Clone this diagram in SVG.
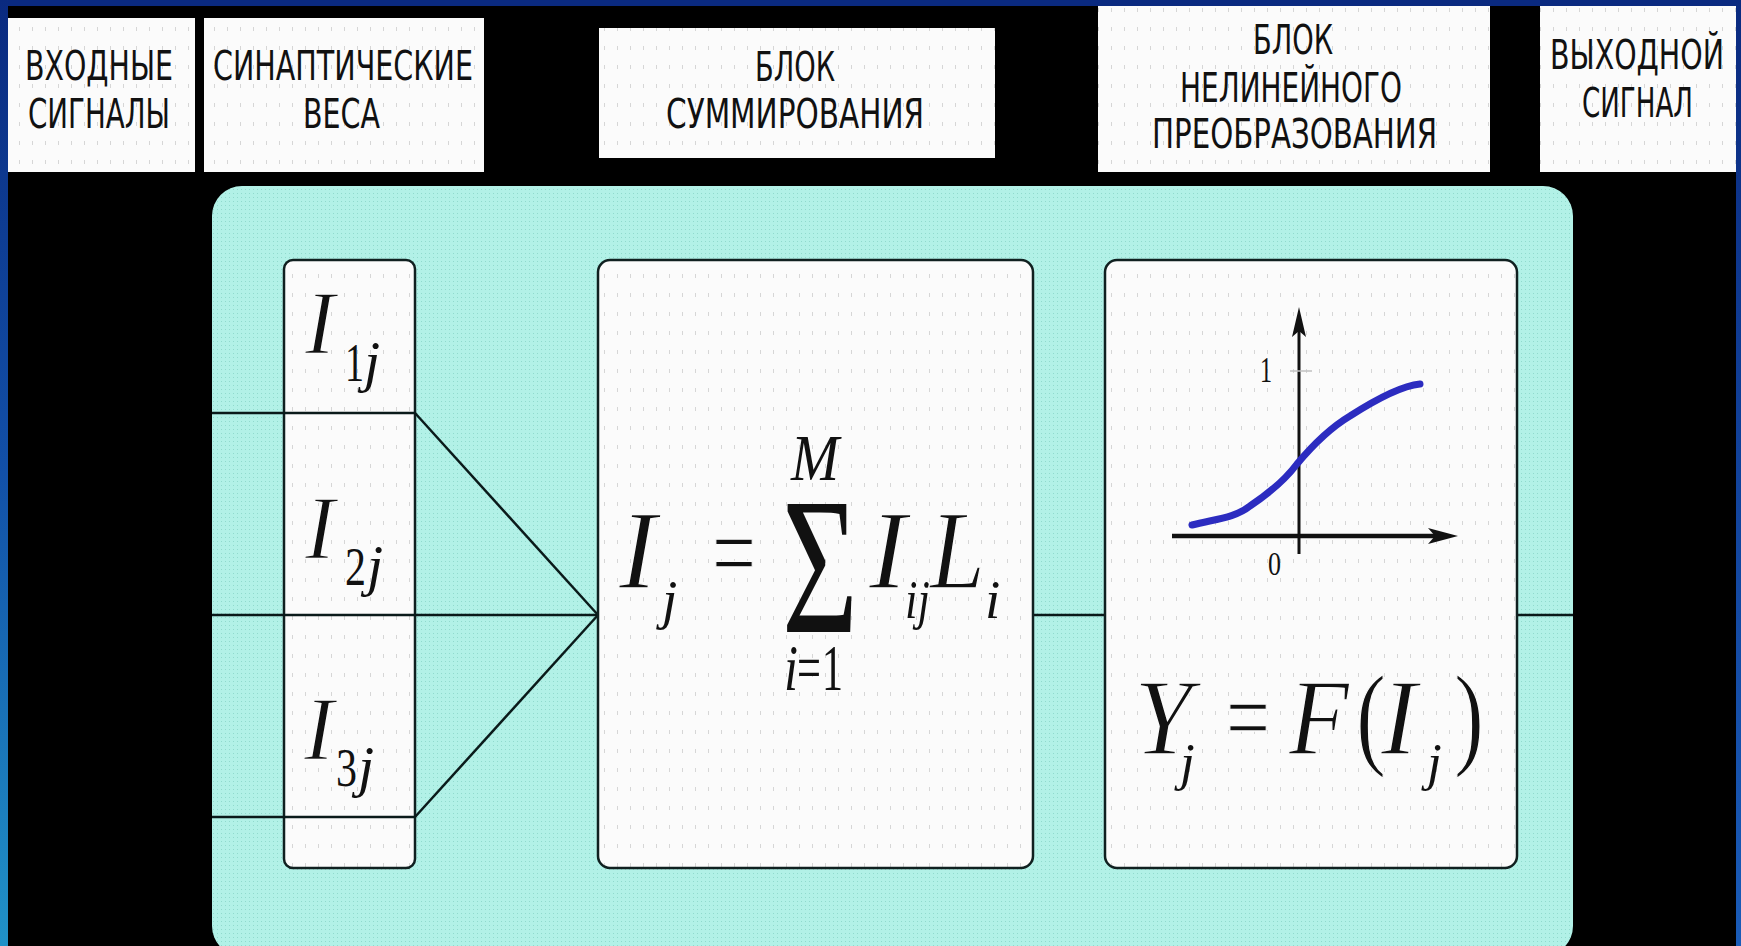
<svg xmlns="http://www.w3.org/2000/svg" width="1741" height="946" viewBox="0 0 1741 946">
<defs>
<linearGradient id="gl" x1="0" y1="0" x2="0" y2="1"><stop offset="0" stop-color="#0a2a80"/><stop offset="0.5" stop-color="#1250a8"/><stop offset="1" stop-color="#2092c8"/></linearGradient>
<linearGradient id="gr" x1="0" y1="0" x2="0" y2="1"><stop offset="0" stop-color="#0a2a80"/><stop offset="1" stop-color="#1a5cb8"/></linearGradient>
<pattern id="dots" width="13" height="19" patternUnits="userSpaceOnUse"><rect width="13" height="19" fill="#fbfbfb"/><rect x="6" y="8" width="1" height="4" fill="#d6d6d6"/></pattern>
<pattern id="cy" width="4" height="4" patternUnits="userSpaceOnUse"><rect width="4" height="4" fill="#b2f1e7"/><rect x="1" y="1" width="1" height="1" fill="#90dacd"/></pattern>
<style>
.hb{fill:url(#dots);stroke:none}
.ht{font-family:"DejaVu Sans Condensed","DejaVu Sans",sans-serif;font-size:40px;fill:#111}
.box{fill:url(#dots);stroke:#102020;stroke-width:2.5}
.ln{stroke:#0a1a1a;stroke-width:2.5;fill:none}
.mi{font-family:"Liberation Serif","Times New Roman",serif;font-style:italic;fill:#111}
.mu{font-family:"Liberation Serif","Times New Roman",serif;fill:#111}
.thin{stroke:#fbfbfb;stroke-width:1.4}
</style>
</defs>
<rect width="1741" height="946" fill="#000"/>
<rect x="0" y="0" width="1741" height="6" fill="#0a2a80"/>
<rect x="0" y="0" width="8" height="946" fill="url(#gl)"/>
<rect x="1736" y="0" width="5" height="946" fill="url(#gr)"/>

<g id="h-input"><rect class="hb" x="8" y="18" width="187" height="154"/>
<text class="ht" x="25" y="80" textLength="148" lengthAdjust="spacingAndGlyphs">ВХОДНЫЕ</text>
<text class="ht" x="28" y="128" textLength="142" lengthAdjust="spacingAndGlyphs">СИГНАЛЫ</text></g>
<g id="h-weights"><rect class="hb" x="204" y="18" width="280" height="154"/>
<text class="ht" x="213" y="80" textLength="260" lengthAdjust="spacingAndGlyphs">СИНАПТИЧЕСКИЕ</text>
<text class="ht" x="303" y="128" textLength="77" lengthAdjust="spacingAndGlyphs">ВЕСА</text></g>
<g id="h-sum"><rect class="hb" x="599" y="28" width="396" height="130"/>
<text class="ht" x="755" y="81" textLength="80" lengthAdjust="spacingAndGlyphs">БЛОК</text>
<text class="ht" x="666" y="128" textLength="258" lengthAdjust="spacingAndGlyphs">СУММИРОВАНИЯ</text></g>
<g id="h-nonlin"><rect class="hb" x="1098" y="6" width="392" height="166"/>
<text class="ht" x="1253" y="54" textLength="80" lengthAdjust="spacingAndGlyphs">БЛОК</text>
<text class="ht" x="1180" y="102" textLength="222" lengthAdjust="spacingAndGlyphs">НЕЛИНЕЙНОГО</text>
<text class="ht" x="1152" y="148" textLength="285" lengthAdjust="spacingAndGlyphs">ПРЕОБРАЗОВАНИЯ</text></g>
<g id="h-output"><rect class="hb" x="1540" y="6" width="196" height="166"/>
<text class="ht" x="1550" y="69" textLength="174" lengthAdjust="spacingAndGlyphs">ВЫХОДНОЙ</text>
<text class="ht" x="1582" y="117" textLength="111" lengthAdjust="spacingAndGlyphs">СИГНАЛ</text></g>

<g id="panel"><rect x="212" y="186" width="1361" height="770" rx="30" ry="30" fill="url(#cy)"/></g>

<g id="weights">
<rect class="box" x="284" y="260" width="131" height="608" rx="9"/>
<text class="mi thin" x="305" y="354" font-size="90">I</text>
<text class="mu" x="345" y="381" font-size="54" textLength="19" lengthAdjust="spacingAndGlyphs">1</text>
<text class="mi" x="364" y="381" font-size="58">j</text>
<text class="mi thin" x="305" y="559" font-size="90">I</text>
<text class="mu" x="345" y="585" font-size="54" textLength="21" lengthAdjust="spacingAndGlyphs">2</text>
<text class="mi" x="367" y="585" font-size="58">j</text>
<text class="mi thin" x="304" y="760" font-size="90">I</text>
<text class="mu" x="336" y="786" font-size="54" textLength="21" lengthAdjust="spacingAndGlyphs">3</text>
<text class="mi" x="358" y="786" font-size="58">j</text>
</g>

<g id="connectors">
<line class="ln" x1="212" y1="413" x2="415" y2="413"/>
<line class="ln" x1="212" y1="615" x2="598" y2="615"/>
<line class="ln" x1="212" y1="817" x2="415" y2="817"/>
<line class="ln" stroke-width="2" x1="415" y1="413" x2="598" y2="615"/>
<line class="ln" stroke-width="2" x1="415" y1="817" x2="598" y2="615"/>
<line class="ln" x1="1033" y1="615" x2="1105" y2="615"/>
<line class="ln" x1="1517" y1="615" x2="1573" y2="615"/>
</g>

<g id="sum">
<rect class="box" x="598" y="260" width="435" height="608" rx="12"/>
<text class="mi thin" x="619" y="588" font-size="113">I</text>
<text class="mi" x="662" y="618" font-size="55">j</text>
<text class="mu thin" x="712" y="590" font-size="113" textLength="44" lengthAdjust="spacingAndGlyphs">=</text>
<text class="mu" x="782" y="632" font-size="196" textLength="76" lengthAdjust="spacingAndGlyphs">Σ</text>
<text class="mi" x="791" y="480" font-size="65" textLength="48" lengthAdjust="spacingAndGlyphs">M</text>
<text class="mi" x="784" y="690" font-size="65" textLength="14" lengthAdjust="spacingAndGlyphs">i</text>
<text class="mu" x="797" y="690" font-size="65" textLength="24" lengthAdjust="spacingAndGlyphs">=</text>
<text class="mu" x="822" y="690" font-size="65" textLength="21" lengthAdjust="spacingAndGlyphs">1</text>
<text class="mi thin" x="869" y="588" font-size="113">I</text>
<text class="mi" x="905" y="618" font-size="55" textLength="25" lengthAdjust="spacingAndGlyphs">ij</text>
<text class="mi thin" x="930" y="588" font-size="113" textLength="55" lengthAdjust="spacingAndGlyphs">L</text>
<text class="mi" x="985" y="618" font-size="55">i</text>
</g>

<g id="nonlinear">
<rect class="box" x="1105" y="260" width="412" height="608" rx="12"/>
<line x1="1172" y1="536" x2="1440" y2="536" stroke="#111" stroke-width="4.5"/>
<polygon points="1458,536 1428,528 1435,536 1428,544" fill="#111"/>
<line x1="1299" y1="325" x2="1299" y2="554" stroke="#111" stroke-width="3"/>
<polygon points="1299,307 1292,337 1299,331 1306,337" fill="#111"/>
<line x1="1290" y1="371" x2="1312" y2="371" stroke="#c0c0c0" stroke-width="1.5"/>
<text class="mu" x="1260" y="382" font-size="36" textLength="12" lengthAdjust="spacingAndGlyphs">1</text>
<text class="mu" x="1268" y="575" font-size="34" textLength="13" lengthAdjust="spacingAndGlyphs">0</text>
<path d="M1192,525 C1215,519 1235,518 1250,506 C1268,494 1285,480 1297,464 C1312,446 1330,428 1350,416 C1375,400 1400,386 1420,384" fill="none" stroke="#2c2cc0" stroke-width="7" stroke-linecap="round"/>
<text class="mi thin" x="1134" y="754" font-size="108" textLength="58" lengthAdjust="spacingAndGlyphs">Y</text>
<text class="mi" x="1180" y="780" font-size="53">j</text>
<text class="mu thin" x="1226" y="753" font-size="108" textLength="44" lengthAdjust="spacingAndGlyphs">=</text>
<text class="mi thin" x="1289" y="754" font-size="108" textLength="60" lengthAdjust="spacingAndGlyphs">F</text>
<text class="mu thin" x="1356" y="754" font-size="115" textLength="30" lengthAdjust="spacingAndGlyphs">(</text>
<text class="mi thin" x="1381" y="754" font-size="108">I</text>
<text class="mi" x="1427" y="780" font-size="53">j</text>
<text class="mu thin" x="1454" y="754" font-size="115" textLength="30" lengthAdjust="spacingAndGlyphs">)</text>
</g>
</svg>
